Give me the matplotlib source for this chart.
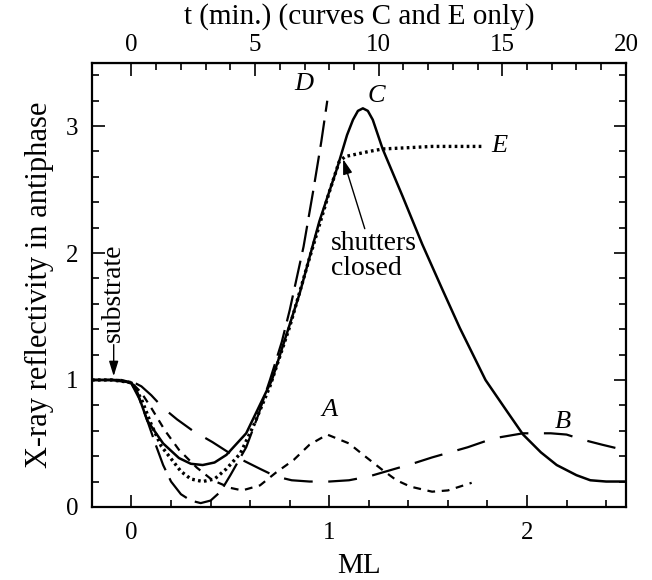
import numpy as np
import matplotlib
matplotlib.use("Agg")
import matplotlib.pyplot as plt
from matplotlib.ticker import MultipleLocator, FixedLocator

plt.rcParams["font.family"] = ["Liberation Serif", "DejaVu Serif"]

# curve C (solid) and E (dotted) are recorded in time, t (min.) = 8 * ML
c_t = [-1.6, -0.8, 0.0, 0.24, 0.64, 1.28, 1.92, 2.4, 2.88, 3.36, 3.84, 4.64, 5.68, 6.8, 7.6,
       8.32, 8.72, 8.96, 9.16, 9.36, 9.56, 9.76, 10.16, 10.96, 11.76, 12.56, 13.28, 14.32,
       15.2, 15.84, 16.56, 17.2, 18.0, 18.56, 19.2, 20.0]
c_y = [1.0, 1.0, 0.98, 0.9, 0.68, 0.5, 0.385, 0.34, 0.33, 0.35, 0.41, 0.58, 1.0, 1.68, 2.25,
       2.67, 2.93, 3.05, 3.12, 3.14, 3.12, 3.05, 2.82, 2.45, 2.07, 1.72, 1.41, 1.0,
       0.75, 0.57, 0.43, 0.33, 0.25, 0.21, 0.2, 0.2]

e_t = [-1.6, -0.8, 0.0, 0.4, 0.8, 1.2, 2.0, 2.4, 2.88, 3.36, 3.84, 4.4, 4.96, 5.6, 6.4,
       7.2, 8.0, 8.4, 8.64, 9.6, 10.16, 11.2, 12.16, 12.8, 13.6, 14.24]
e_y = [1.0, 1.0, 0.98, 0.85, 0.65, 0.48, 0.28, 0.22, 0.2, 0.22, 0.3, 0.42, 0.65, 0.95, 1.42,
       1.96, 2.48, 2.72, 2.76, 2.8, 2.82, 2.83, 2.84, 2.84, 2.84, 2.84]

# curves A, B, D in monolayers
a_ml = [-0.2, -0.05, 0.0, 0.05, 0.1, 0.17, 0.24, 0.33, 0.41, 0.5, 0.56, 0.65, 0.73, 0.82,
        0.9, 0.99, 1.1, 1.18, 1.27, 1.34, 1.41, 1.52, 1.6, 1.66, 1.72]
a_y = [1.0, 1.0, 0.98, 0.9, 0.78, 0.6, 0.45, 0.31, 0.21, 0.15, 0.13, 0.17, 0.27, 0.37,
       0.49, 0.57, 0.5, 0.4, 0.29, 0.21, 0.16, 0.12, 0.13, 0.16, 0.19]

b_ml = [-0.2, -0.05, 0.0, 0.05, 0.1, 0.16, 0.23, 0.31, 0.41, 0.5, 0.56, 0.65, 0.73, 0.81,
        0.9, 1.0, 1.1, 1.2, 1.31, 1.42, 1.52, 1.61, 1.7, 1.83, 1.98, 2.12, 2.2, 2.28,
        2.38, 2.46, 2.5]
b_y = [1.0, 1.0, 0.99, 0.95, 0.88, 0.78, 0.69, 0.6, 0.51, 0.42, 0.37, 0.3, 0.24, 0.21,
       0.2, 0.2, 0.21, 0.24, 0.29, 0.34, 0.39, 0.43, 0.47, 0.54, 0.58, 0.58, 0.57, 0.53,
       0.49, 0.46, 0.45]

d_ml = [-0.2, -0.05, 0.0, 0.04, 0.08, 0.12, 0.16, 0.2, 0.25, 0.3, 0.35, 0.4, 0.45, 0.5,
        0.58, 0.64, 0.7, 0.76, 0.8, 0.87, 0.92, 0.96, 0.99]
d_y = [1.0, 1.0, 0.97, 0.85, 0.68, 0.5, 0.33, 0.2, 0.1, 0.05, 0.03, 0.05, 0.12, 0.25,
       0.47, 0.72, 1.0, 1.3, 1.55, 2.05, 2.5, 2.88, 3.2]

top_ticks = [0, 5, 10, 15, 20]
MIN_PER_ML = 8.0

fig = plt.figure(figsize=(6.52, 5.8), dpi=100)
ax = fig.add_axes([0.141, 0.126, 0.819, 0.766])

ax.plot(np.array(c_t) / MIN_PER_ML, c_y, color="k", lw=1.8)
ax.plot(np.array(e_t) / MIN_PER_ML, e_y, color="k", lw=2.4, linestyle=(0, (0.8, 1.0)))
ax.plot(a_ml, a_y, color="k", lw=1.6, linestyle=(0, (3.5, 3.0)))
ax.plot(b_ml, b_y, color="k", lw=1.6, linestyle=(0, (13, 7)))
ax.plot(d_ml, d_y, color="k", lw=1.6, linestyle=(0, (12, 4)))

ax.set_xlim(-0.2, 2.5)
ax.set_ylim(0, 3.5)
ax.xaxis.set_major_locator(MultipleLocator(1))
ax.xaxis.set_minor_locator(MultipleLocator(0.2))
ax.yaxis.set_major_locator(MultipleLocator(1))
ax.yaxis.set_minor_locator(MultipleLocator(0.2))
ax.tick_params(which="both", direction="in", top=False, right=True, width=1.2,
               labelsize=18)
ax.tick_params(axis="x", pad=11)
ax.tick_params(axis="y", pad=10)
ax.tick_params(which="major", length=9)
ax.tick_params(which="minor", length=5)
for s in ax.spines.values():
    s.set_linewidth(1.6)

ax.set_xlabel("ML", fontsize=21, labelpad=6)
ax.set_ylabel("X-ray reflectivity in antiphase", fontsize=22, labelpad=8)

top = ax.secondary_xaxis("top", functions=(lambda x: x * MIN_PER_ML, lambda t: t / MIN_PER_ML))
top.xaxis.set_major_locator(FixedLocator(top_ticks))
top.xaxis.set_minor_locator(FixedLocator(range(0, 21)))
top.tick_params(which="both", direction="in", width=1.2, labelsize=18, pad=5)
top.tick_params(which="major", length=9)
top.tick_params(which="minor", length=5)
top.set_xlabel("t (min.) (curves C and E only)", fontsize=21, labelpad=7)

lab = dict(fontsize=19, style="italic", ha="center", va="center")
ax.text(1.0, 0.76, "A", **lab)
ax.text(2.18, 0.67, "B", **lab)
ax.text(1.24, 3.24, "C", **lab)
ax.text(0.87, 3.33, "D", **lab)
ax.text(1.86, 2.84, "E", **lab)

arrow = dict(arrowstyle="-|>,head_length=0.45,head_width=0.14", color="k",
             lw=1.0, shrinkA=0, shrinkB=0)
ax.annotate("substrate", xy=(-0.09, 1.03), xytext=(-0.09, 1.3), rotation=90,
            ha="center", va="bottom", fontsize=20, arrowprops=arrow)
ax.annotate("shutters\nclosed", xy=(1.07, 2.74), xytext=(1.01, 2.17), ha="left", va="top",
            fontsize=20, linespacing=0.95,
            arrowprops=dict(arrow, relpos=(0.4, 1.0)))

fig.savefig("out.png", dpi=100)
